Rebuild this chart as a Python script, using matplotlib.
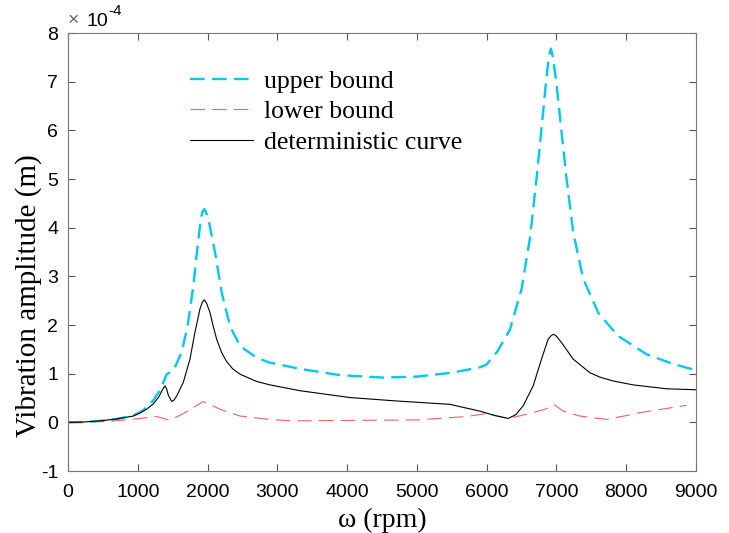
import numpy as np
from matplotlib import pyplot as plt
from matplotlib.ticker import MultipleLocator

plt.rcParams['font.family'] = 'serif'
plt.rcParams['font.serif'] = ['Liberation Serif', 'DejaVu Serif']
plt.rcParams['axes.unicode_minus'] = False

# values in units of 1e-4 m
x_det = [0, 200, 458, 700, 936, 1031, 1127, 1222, 1300, 1357, 1390, 1415, 1437, 1486,
         1520, 1557, 1652, 1748, 1819, 1891, 1925, 1953, 1985, 2034, 2080, 2130, 2200,
         2273, 2360, 2464, 2703, 2894, 3324, 4040, 4700, 5473, 5903, 6117, 6309, 6420,
         6523, 6667, 6786, 6882, 6930, 6963, 7000, 7073, 7240, 7479, 7622, 7813, 8099,
         8577, 9000]
y_det = [0, 0.005, 0.03, 0.07, 0.13, 0.19, 0.27, 0.38, 0.52, 0.68, 0.75, 0.68, 0.56, 0.43,
         0.46, 0.54, 0.82, 1.30, 1.85, 2.33, 2.47, 2.52, 2.45, 2.26, 1.98, 1.71, 1.44,
         1.25, 1.10, 0.99, 0.84, 0.77, 0.65, 0.51, 0.44, 0.37, 0.23, 0.14, 0.08, 0.16,
         0.34, 0.75, 1.30, 1.71, 1.79, 1.81, 1.77, 1.64, 1.30, 1.02, 0.93, 0.85, 0.77,
         0.69, 0.67]

x_up = [0, 200, 458, 700, 936, 1079, 1222, 1300, 1366, 1414, 1470, 1510, 1560, 1628,
        1714, 1796, 1853, 1905, 1930, 1953, 1975, 2010, 2106, 2202, 2321, 2464, 2703,
        2884, 3324, 3897, 4513, 5000, 5500, 5903, 6000, 6150, 6332, 6500, 6619, 6715,
        6786, 6858, 6890, 6920, 6950, 7001, 7073, 7145, 7240, 7383, 7600, 7880, 8290,
        8672, 9000]
y_up = [0, 0.005, 0.03, 0.07, 0.14, 0.25, 0.45, 0.62, 0.82, 0.99, 1.03, 1.07, 1.22, 1.44,
        1.98, 2.81, 3.57, 4.19, 4.33, 4.38, 4.33, 4.19, 3.50, 2.67, 1.98, 1.57, 1.33,
        1.23, 1.10, 0.97, 0.92, 0.94, 1.02, 1.13, 1.19, 1.45, 1.90, 2.74, 3.77, 5.01,
        6.04, 7.10, 7.50, 7.68, 7.50, 6.95, 5.97, 5.01, 3.91, 2.95, 2.25, 1.78, 1.40,
        1.20, 1.07]

x_low = [0, 600, 1031, 1246, 1300, 1461, 1676, 1939, 2178, 2464, 2894, 3230, 4000, 5000,
         5712, 5998, 6309, 6619, 6858, 6963, 7096, 7335, 7717, 8004, 8195, 8863]
y_low = [0, 0.02, 0.08, 0.12, 0.11, 0.04, 0.20, 0.43, 0.27, 0.13, 0.06, 0.03, 0.04, 0.05,
         0.12, 0.18, 0.08, 0.18, 0.28, 0.37, 0.23, 0.13, 0.06, 0.14, 0.20, 0.35]

fig = plt.figure(figsize=(7.29, 5.33), dpi=100)
ax = fig.add_axes([0.0933, 0.1163, 0.8614, 0.8217])

ax.plot(x_up, y_up, color='#00c8f0', lw=1.7, dashes=(6.2, 3.1), label='upper bound')
ax.plot(x_low, y_low, color='#f26262', lw=0.8, dashes=(13, 6.5), label='lower bound')
ax.plot(x_det, y_det, color='k', lw=0.8, label='deterministic curve')

ax.set_xlim(0, 9000)
ax.set_ylim(-1, 8)
ax.xaxis.set_major_locator(MultipleLocator(1000))
ax.yaxis.set_major_locator(MultipleLocator(1))
ax.tick_params(direction='in', top=True, right=True, length=5, color='#555555')
ax.tick_params(axis='x', pad=9)
ax.tick_params(axis='y', pad=7)
for lab in ax.get_xticklabels() + ax.get_yticklabels():
    lab.set_family('Liberation Sans')
    lab.set_fontsize(14)
for s in ax.spines.values():
    s.set_color('#777777')

ax.set_xlabel('ω (rpm)', fontsize=20)
ax.set_ylabel('Vibration amplitude (m)', fontsize=21)
ax.xaxis.set_label_coords(0.5, -0.083)
ax.yaxis.set_label_coords(-0.042, 0.40)
ax.text(0.0, 1.008, '×', transform=ax.transAxes, fontsize=14, color='#666666',
        family='Liberation Sans', ha='left', va='bottom')
ax.text(0.03, 1.008, '10', transform=ax.transAxes, fontsize=14,
        family='Liberation Sans', ha='left', va='bottom')
ax.text(0.064, 1.035, '-4', transform=ax.transAxes, fontsize=11,
        family='Liberation Sans', ha='left', va='bottom')

ax.legend(loc='upper left', bbox_to_anchor=(0.194, 0.915), frameon=False, fontsize=18.5,
          handlelength=2.45, handletextpad=0.42, labelspacing=0.28, borderpad=0,
          borderaxespad=0)

plt.savefig('out.png', dpi=100)
